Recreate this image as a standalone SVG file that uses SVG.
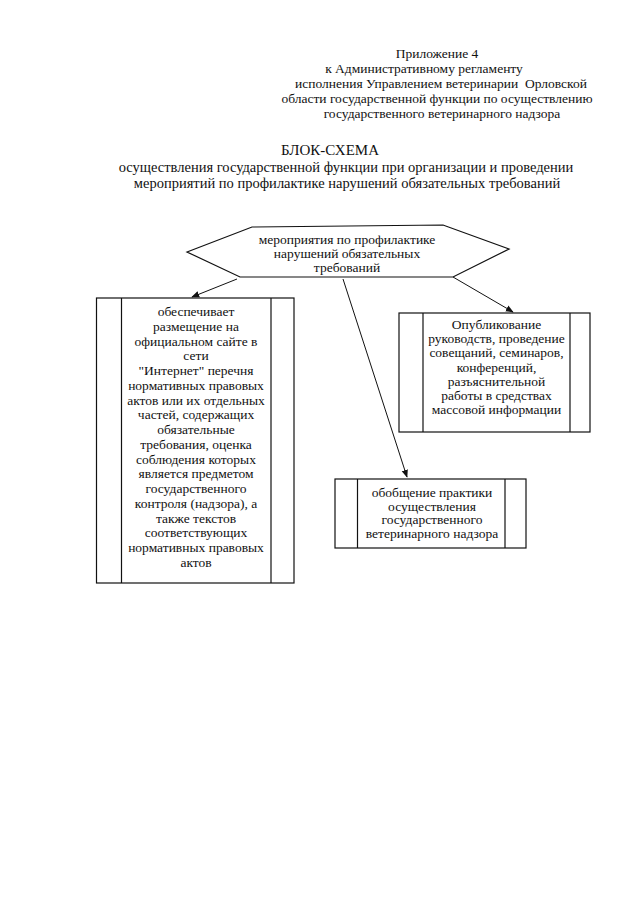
<svg xmlns="http://www.w3.org/2000/svg" width="640" height="905" viewBox="0 0 640 905">
<style>
text{font-family:"Liberation Serif","Times New Roman",serif;fill:#111;text-anchor:middle}
.t{font-size:13.5px}
.h{font-size:13.5px}
.ti{font-size:15px}
.st{font-size:14.5px}
.b{fill:#fff;stroke:#111;stroke-width:1.2}
.l{stroke:#111;stroke-width:1.2;fill:none}
.c{stroke:#111;stroke-width:1;fill:none;marker-end:url(#ah)}
</style>
<defs>
<marker id="ah" viewBox="0 0 10 10" refX="9" refY="5" markerWidth="8" markerHeight="8" markerUnits="userSpaceOnUse" orient="auto">
<path d="M0,1 L10,5 L0,9 Z" fill="#111"/>
</marker>
</defs>
<rect width="640" height="905" fill="#fff"/>
<g id="header">
<text class="h" x="437" y="58">Приложение 4</text>
<text class="h" x="424" y="73">к Административному регламенту</text>
<text class="h" x="441" y="88" xml:space="preserve">исполнения Управлением ветеринарии  Орловской</text>
<text class="h" x="437" y="103">области государственной функции по осуществлению</text>
<text class="h" x="442" y="118">государственного ветеринарного надзора</text>
</g>
<g id="title">
<text class="ti" x="330" y="155">БЛОК-СХЕМА</text>
<text class="st" x="346" y="172">осуществления государственной функции при организации и проведении</text>
<text class="st" x="347" y="188">мероприятий по профилактике нарушений обязательных требований</text>
</g>
<g id="connectors">
<line class="c" x1="237" y1="279" x2="192" y2="297"/>
<line class="c" x1="453" y1="277" x2="513" y2="312"/>
<line class="c" x1="343" y1="279" x2="407" y2="477"/>
</g>
<g id="n-start">
<polygon class="b" points="187,252 252,227 443,225 509,249 453,277 240,277"/>
<text class="t" x="347" y="244">мероприятия по профилактике</text>
<text class="t" x="347" y="258">нарушений обязательных</text>
<text class="t" x="347" y="272">требований</text>
</g>
<g id="n-site">
<rect class="b" x="96.5" y="298" width="197.5" height="285"/>
<line class="l" x1="121.5" y1="298" x2="121.5" y2="583"/>
<line class="l" x1="271" y1="298" x2="271" y2="583"/>
<text class="t" x="196" y="316">обеспечивает</text>
<text class="t" x="196" y="330.8">размещение на</text>
<text class="t" x="196" y="345.5">официальном сайте в</text>
<text class="t" x="196" y="360.3">сети</text>
<text class="t" x="196" y="375">"Интернет" перечня</text>
<text class="t" x="196" y="389.8">нормативных правовых</text>
<text class="t" x="196" y="404.6">актов или их отдельных</text>
<text class="t" x="196" y="419.3">частей, содержащих</text>
<text class="t" x="196" y="434.1">обязательные</text>
<text class="t" x="196" y="448.8">требования, оценка</text>
<text class="t" x="196" y="463.6">соблюдения которых</text>
<text class="t" x="196" y="478.4">является предметом</text>
<text class="t" x="196" y="493.1">государственного</text>
<text class="t" x="196" y="507.9">контроля (надзора), а</text>
<text class="t" x="196" y="522.6">также текстов</text>
<text class="t" x="196" y="537.4">соответствующих</text>
<text class="t" x="196" y="552.2">нормативных правовых</text>
<text class="t" x="196" y="567">актов</text>
</g>
<g id="n-publish">
<rect class="b" x="399" y="313" width="191" height="119"/>
<line class="l" x1="423" y1="313" x2="423" y2="432"/>
<line class="l" x1="570" y1="313" x2="570" y2="432"/>
<text class="t" x="496.5" y="329">Опубликование</text>
<text class="t" x="496.5" y="343.2">руководств, проведение</text>
<text class="t" x="496.5" y="357.4">совещаний, семинаров,</text>
<text class="t" x="496.5" y="371.6">конференций,</text>
<text class="t" x="496.5" y="385.8">разъяснительной</text>
<text class="t" x="496.5" y="400">работы в средствах</text>
<text class="t" x="496.5" y="414.2">массовой информации</text>
</g>
<g id="n-practice">
<rect class="b" x="335" y="479" width="191" height="69"/>
<line class="l" x1="357.5" y1="479" x2="357.5" y2="548"/>
<line class="l" x1="505" y1="479" x2="505" y2="548"/>
<text class="t" x="432" y="497">обобщение практики</text>
<text class="t" x="432" y="510.5">осуществления</text>
<text class="t" x="432" y="524">государственного</text>
<text class="t" x="432" y="538">ветеринарного надзора</text>
</g>
</svg>
